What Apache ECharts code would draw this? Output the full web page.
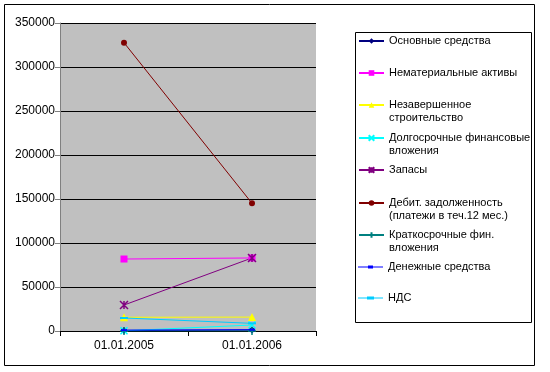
<!DOCTYPE html>
<html><head><meta charset="utf-8">
<script src="https://cdn.jsdelivr.net/npm/echarts@6/dist/echarts.min.js"></script>
<style>html,body{margin:0;padding:0;background:#fff}#c{width:550px;height:372px}</style>
</head><body><div id="c"></div>
<script>
const categories = ['01.01.2005', '01.01.2006'];
const seriesNames = [
  'Основные средства',
  'Нематериальные активы',
  'Незавершенное\nстроительство',
  'Долгосрочные финансовые\nвложения',
  'Запасы',
  'Дебит. задолженность\n(платежи в теч.12 мес.)',
  'Краткосрочные фин.\nвложения',
  'Денежные средства',
  'НДС'
];
const osnovnye = [600, 1000];
const nematerial = [81800, 83000];
const nezaversh = [15600, 15800];
const dolgosroch = [300, 6800];
const zapasy = [29500, 83000];
const debit = [327600, 145100];
const kratkosroch = [0, 0];
const denezhnye = [1000, 1500];
const nds = [14800, 8700];
const yTicks = [0, 50000, 100000, 150000, 200000, 250000, 300000, 350000];

const values = [osnovnye, nematerial, nezaversh, dolgosroch, zapasy, debit, kratkosroch, denezhnye, nds];
const colors = ['#000080', '#FF00FF', '#FFFF00', '#00FFFF', '#800080', '#800000', '#008080', '#0000FF', '#00CCFF'];
const symbols = ['diamond', 'rect', 'triangle',
  'path://M0,0L10,10M10,0L0,10',
  'path://M0,0L10,10M10,0L0,10M5,0L5,10',
  'circle',
  'path://M5,0L5,10M0,5L10,5',
  'rect', 'rect'];
const sizes = [7, 7, 8, 7, 8, 6, 8, [6, 2], [8, 2]];
const strokeSym = [false, false, false, true, true, false, true, false, false];
// legend icons for dash-marker series (line + dash), null = inherit from series
const legendIcons = [null, null, null, null, null, null, null,
  'path://M0,1h25v1h-25zM10,0h5v3h-5z',
  'path://M0,1h25v1h-25zM9,0h7v3h-7z'];

const FONT = 'Liberation Sans, Arial, sans-serif';
const legendCenters = [41, 73, 105, 138, 170, 203, 235, 267, 298];

const chart = echarts.init(document.getElementById('c'), null, {renderer: 'canvas'});

const series = seriesNames.map((n, i) => ({
  name: n,
  type: 'line',
  data: values[i],
  symbol: symbols[i],
  symbolSize: sizes[i],
  showSymbol: true,
  lineStyle: {color: colors[i], width: 1},
  itemStyle: strokeSym[i]
    ? {color: colors[i], borderColor: colors[i], borderWidth: 1.5}
    : {color: colors[i], borderWidth: 0},
  emphasis: {disabled: true}
}));

const legends = seriesNames.map((n, i) => {
  const two = n.indexOf('\n') >= 0;
  const item = legendIcons[i] ? {name: n, icon: legendIcons[i]} : {name: n};
  return {
    show: true,
    data: [item],
    left: 358,
    top: legendCenters[i] - (two ? 19.5 : 6.5),
    orient: 'vertical',
    padding: 0,
    itemWidth: 25,
    itemHeight: legendIcons[i] ? 3 : 7,
    selectedMode: false,
    formatter: two ? (name => ' \n' + name) : (name => name),
    textStyle: {
      fontFamily: FONT, fontSize: 11, color: '#000', lineHeight: 13
    }
  };
});

chart.setOption({
  animation: false,
  backgroundColor: '#fff',
  color: colors,
  grid: {left: 60, top: 23, right: 234, bottom: 41, show: true, backgroundColor: '#C0C0C0', borderWidth: 0},
  xAxis: {
    type: 'category',
    data: categories,
    boundaryGap: true,
    axisLine: {lineStyle: {color: '#000', width: 1}},
    axisTick: {show: true, length: 5, lineStyle: {color: '#000'}},
    axisLabel: {fontFamily: FONT, fontSize: 12, color: '#000', margin: 9},
    splitLine: {show: false}
  },
  yAxis: {
    type: 'value',
    min: yTicks[0],
    max: yTicks[yTicks.length - 1],
    interval: yTicks[1] - yTicks[0],
    axisLine: {show: true, lineStyle: {color: '#808080', width: 1}},
    axisTick: {show: true, length: 5, lineStyle: {color: '#808080'}},
    axisLabel: {fontFamily: FONT, fontSize: 12, color: '#000', margin: 5, formatter: v => String(v)},
    splitLine: {show: true, lineStyle: {color: '#000', width: 1}}
  },
  legend: legends,
  series: series,
  graphic: [
    {type: 'rect', shape: {x: 4.5, y: 4.5, width: 530, height: 361}, style: {fill: 'none', stroke: '#000', lineWidth: 1}, silent: true, z: -1},
    {type: 'rect', shape: {x: 355.5, y: 32.5, width: 176, height: 290}, style: {fill: 'none', stroke: '#000', lineWidth: 1}, silent: true}
  ]
});
</script>
</body></html>
